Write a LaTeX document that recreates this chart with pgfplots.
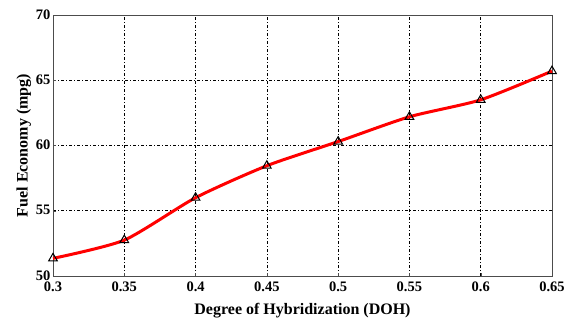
\documentclass[border=0pt]{standalone}
\usepackage{fontspec}
\setmainfont{Liberation Serif}
\usepackage{pgfplots}
\pgfplotsset{compat=1.18}
\begin{document}
\begin{tikzpicture}[x=1pt,y=1pt]
\path[use as bounding box] (0,0) rectangle (564,321);
\begin{axis}[
  at={(53pt,45pt)}, anchor=south west,
  scale only axis, width=499pt, height=261pt,
  xmin=0.3, xmax=0.65, ymin=50, ymax=70,
  xtick={0.3,0.35,...,0.651}, ytick={50,55,...,70},
  xticklabels={0.3,0.35,0.4,0.45,0.5,0.55,0.6,0.65},
  /pgf/number format/assume math mode=true,
  tick label style={font=\fontsize{14.5}{14.5}\selectfont\bfseries},
  xticklabel style={yshift=-2.5pt},
  yticklabel style={xshift=1pt, yshift=0.5pt},
  label style={font=\fontsize{16}{16}\selectfont\bfseries},
  xlabel={Degree of Hybridization (DOH)},
  ylabel={Fuel Economy (mpg)},
  xlabel style={yshift=-4pt},
  ylabel style={yshift=-2pt},
  grid=major,
  major grid style={black, line width=0.6pt, dash pattern=on 3pt off 2pt on 1pt off 2pt},
  axis line style={black!70, line width=0.8pt},
  major tick length=3pt,
  tick style={black!70},
  xtick pos=bottom, ytick pos=left,
  clip=false,
]
\addplot[red, line width=3pt, smooth, tension=0.4, mark=triangle, mark size=5pt,
  mark options={black, solid, line width=1pt, fill=none}]
  coordinates {(0.3,51.35) (0.35,52.75) (0.4,56.0) (0.45,58.45) (0.5,60.3) (0.55,62.2) (0.6,63.5) (0.65,65.7)};
\end{axis}
\end{tikzpicture}
\end{document}
